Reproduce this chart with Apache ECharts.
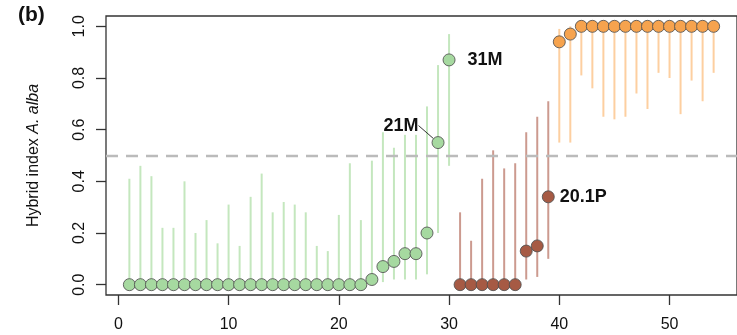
<!DOCTYPE html>
<html><head><meta charset="utf-8">
<script src="https://cdn.jsdelivr.net/npm/echarts@6/dist/echarts.min.js"></script>
<style>html,body{margin:0;padding:0;background:#fff}#c{width:737px;height:335px}</style>
</head><body><div id="c"></div>
<script>
// ---- data ----
const greenX  = [1,2,3,4,5,6,7,8,9,10,11,12,13,14,15,16,17,18,19,20,21,22,23,24,25,26,27,28,29,30];
const greenVal= [0,0,0,0,0,0,0,0,0,0,0,0,0,0,0,0,0,0,0,0,0,0,0.02,0.07,0.09,0.12,0.12,0.20,0.55,0.87];
const greenLo = [0,0,0,0,0,0,0,0,0,0,0,0,0,0,0,0,0,0,0,0,0,0,0,0.01,0.02,0.02,0.02,0.04,0.20,0.46];
const greenHi = [0.41,0.46,0.42,0.22,0.22,0.40,0.20,0.25,0.16,0.31,0.15,0.34,0.43,0.28,0.32,0.31,0.28,0.15,0.13,0.27,0.47,0.25,0.48,0.59,0.53,0.58,0.58,0.69,0.85,0.97];

const brownX  = [31,32,33,34,35,36,37,38,39];
const brownVal= [0,0,0,0,0,0,0.13,0.15,0.34];
const brownLo = [0,0,0,0,0,0,0.02,0.03,0.10];
const brownHi = [0.28,0.17,0.41,0.52,0.45,0.47,0.59,0.65,0.71];

const orangeX  = [40,41,42,43,44,45,46,47,48,49,50,51,52,53,54];
const orangeVal= [0.94,0.97,1,1,1,1,1,1,1,1,1,1,1,1,1];
const orangeLo = [0.55,0.55,0.81,0.76,0.65,0.64,0.65,0.74,0.68,0.82,0.80,0.66,0.79,0.71,0.82];
const orangeHi = [0.99,1,1,1,1,1,1,1,1,1,1,1,1,1,1];

const xTicks = [0,10,20,30,40,50];
const yTicks = [0,0.2,0.4,0.6,0.8,1.0];
const threshold = 0.5;
const pointLabels = {29:'21M', 30:'31M', 39:'20.1P'};

// ---- chart ----
const FONT = '"Liberation Sans", Arial, Helvetica, sans-serif';
const chart = echarts.init(document.getElementById('c'), null, {renderer:'canvas'});

function stemSeries(xs, lo, hi, color){
  return {
    type:'custom', silent:true, z:2,
    data: xs.map((x,i)=>[x, lo[i], hi[i]]),
    encode:{x:0, y:[1,2]},
    renderItem:(params, api)=>{
      const a = api.coord([api.value(0), api.value(1)]);
      const b = api.coord([api.value(0), api.value(2)]);
      return {type:'line', shape:{x1:a[0],y1:a[1],x2:b[0],y2:b[1]},
              style:{stroke:color, lineWidth:2}};
    }
  };
}

function pointSeries(xs, vals, fill, extra){
  return Object.assign({
    type:'scatter', symbol:'circle', symbolSize:12, z:5, silent:true,
    itemStyle:{color:fill, borderColor:'rgba(80,80,80,0.85)', borderWidth:1, opacity:1},
    label:{show:false},
    data: xs.map((x,i)=>{
      const it = {value:[x, vals[i]]};
      const t = pointLabels[x];
      if (t) {
        it.label = {show:true, formatter:t, position:'right', distance:10,
          fontFamily:FONT, fontSize:18, fontWeight:'bold', color:'#111'};
      }
      return it;
    })
  }, extra || {});
}

const greenPts = pointSeries(greenX, greenVal, '#a6d9a0', {
  labelLayout: function(p){
    if (greenX[p.dataIndex] === 29) return {dx:-8, dy:-17};
    return {};
  }
});
// 21M sits left of its point with a leader line
greenPts.data.forEach(d=>{
  if (d.value[0] === 29) {
    d.label.position = 'left'; d.label.distance = 5;
    d.labelLine = {show:true, lineStyle:{color:'#333', width:1}};
  }
  if (d.value[0] === 30) { d.label.distance = 12; }
});
const brownPts = pointSeries(brownX, brownVal, '#a65a44');
brownPts.data.forEach(d=>{ if (d.label) d.label.distance = 5; });
const orangePts = pointSeries(orangeX, orangeVal, '#f6a34e');

chart.setOption({
  animation:false,
  backgroundColor:'#fff',
  grid:{left:106, right:-2, top:16, bottom:40, show:true, borderColor:'#333', borderWidth:1.3, backgroundColor:'transparent'},
  graphic:[{type:'text', left:18, top:5, style:{text:'(b)', font:'bold 21px '+FONT, fill:'#111'}}],
  xAxis:{
    type:'value', min:-1.12, max:56.12,
    axisLine:{show:false, onZero:false},
    splitLine:{show:false},
    axisTick:{show:true, length:10, inside:false, customValues:xTicks, lineStyle:{color:'#333', width:1.3}},
    axisLabel:{show:true, customValues:xTicks, margin:22, fontFamily:FONT, fontSize:16, color:'#111'}
  },
  yAxis:{
    type:'value', min:-0.04, max:1.04,
    axisLine:{show:false, onZero:false},
    splitLine:{show:false},
    axisTick:{show:true, length:10, inside:false, customValues:yTicks, lineStyle:{color:'#333', width:1.3}},
    axisLabel:{show:true, customValues:yTicks, rotate:90, margin:18, fontFamily:FONT, fontSize:16, color:'#111',
      formatter:v=>Number(v).toFixed(1)},
    name:'Hybrid index {i|A. alba}', nameLocation:'middle', nameRotate:90, nameGap:64,
    nameTextStyle:{fontFamily:FONT, fontSize:16, color:'#111',
      rich:{i:{fontFamily:FONT, fontSize:16, fontStyle:'italic', color:'#111'}}}
  },
  series:[
    {type:'line', data:[], silent:true, z:1,
     markLine:{silent:true, symbol:'none', label:{show:false},
       lineStyle:{color:'#bbbbbb', type:[12,8], width:2.4},
       data:[{yAxis:threshold}]}},
    stemSeries(greenX, greenLo, greenHi, '#c4e7be'),
    stemSeries(brownX, brownLo, brownHi, '#cc9a8f'),
    stemSeries(orangeX, orangeLo, orangeHi, '#fdcfa0'),
    greenPts, brownPts, orangePts
  ]
});
</script>
</body></html>
